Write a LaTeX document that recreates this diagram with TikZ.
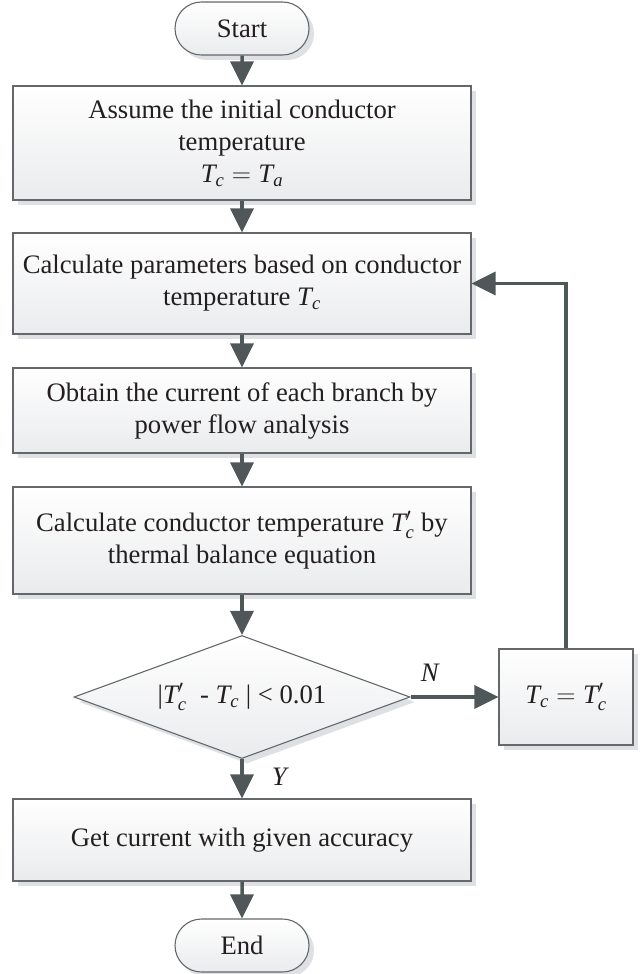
\documentclass[tikz,border=0pt]{standalone}
\usepackage{fix-cm}
\usepackage{amsmath}
\usepackage{fontspec}
\setmainfont{Liberation Serif}
\usetikzlibrary{shapes.geometric,shapes.misc,arrows.meta,shadows}
\definecolor{linegray}{RGB}{100,104,107}
\definecolor{arrgray}{RGB}{80,87,89}
\definecolor{shadowgray}{RGB}{222,224,228}
\definecolor{fillbot}{RGB}{234,235,237}
\definecolor{txt}{RGB}{35,31,32}
\newcommand\vT[1]{\text{\itshape T}_{\text{\itshape #1}}}
\newcommand\vTp[1]{\text{\itshape T}'_{\text{\itshape #1}}}
\begin{document}
\begin{tikzpicture}[x=1pt,y=-1pt,
  base/.style={draw=linegray, line width=1.1pt, top color=white, bottom color=fillbot,
    text=txt, font=\fontsize{26.67}{32}\selectfont, align=center, inner sep=0pt,
    general shadow={fill=shadowgray, shadow xshift=5pt, shadow yshift=-5pt}},
  procbox/.style={base, rectangle, minimum width=458pt},
  term/.style={base, rounded rectangle, minimum width=134pt, minimum height=53pt},
  decision/.style={base, diamond, aspect=2.73, minimum width=336pt, minimum height=123pt},
  arr/.style={draw=arrgray, line width=3.5pt, -{Triangle[length=24pt,width=23pt]}},
  lbl/.style={font=\fontsize{26.67}{32}\selectfont\itshape, text=txt, inner sep=0pt}
]
\useasboundingbox (0,0) rectangle (642,974);

\node[term] (start) at (242,28.5) {Start};
\node[procbox, minimum height=114pt] (b1) at (242,143)
  {Assume the initial conductor\\temperature\\$\vT{c} = \vT{a}$};
\node[procbox, minimum height=101pt] (b2) at (242,283.5)
  {Calculate parameters based on conductor\\temperature $\vT{c}$};
\node[procbox, minimum height=85pt] (b3) at (242,410.5)
  {Obtain the current of each branch by\\power flow analysis};
\node[procbox, minimum height=107pt] (b4) at (242,540.5)
  {Calculate conductor temperature $\vTp{c}$ by\\thermal balance equation};
\node[decision] (dec) at (242,697)
  {\textbar$\vTp{c}$~ - $\vT{c}$ \textbar{} < 0.01};
\node[base, rectangle, minimum width=134pt, minimum height=96pt] (upd) at (566,697)
  {$\vT{c} = \vTp{c}$};
\node[procbox, minimum height=82pt] (b5) at (242,840)
  {Get current with given accuracy};
\node[term] (end) at (242,945.5) {End};

\draw[arr] (start) -- (b1);
\draw[arr] (b1) -- (b2);
\draw[arr] (b2) -- (b3);
\draw[arr] (b3) -- (b4);
\draw[arr] (b4) -- (dec);
\draw[arr] (dec.east) -- node[lbl, above=14pt, pos=0.22] {N} (upd.west);
\draw[arr] (upd.north) |- (b2.east);
\draw[arr] (dec.south) -- node[lbl, right=28pt, pos=0.45] {Y} (b5.north);
\draw[arr] (b5) -- (end);
\end{tikzpicture}
\end{document}
